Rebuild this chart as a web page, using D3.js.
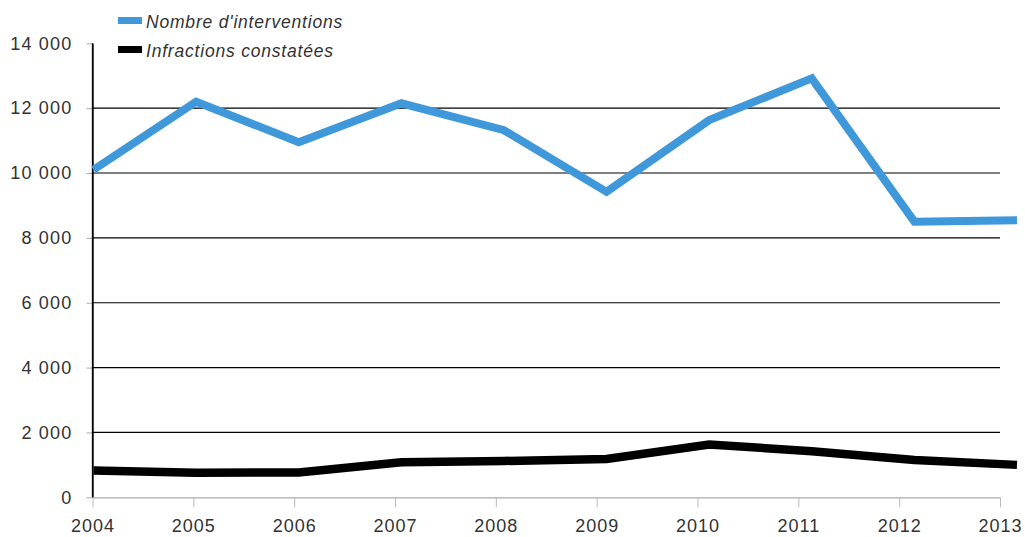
<!DOCTYPE html>
<html>
<head>
<meta charset="utf-8">
<script src="https://cdn.jsdelivr.net/npm/d3@7"></script>
<style>
  html, body { margin: 0; padding: 0; background: #fff; }
  svg { display: block; }
  text { font-family: "Liberation Sans", Arial, sans-serif; fill: #333; }
</style>
</head>
<body>
<svg id="chart" width="1025" height="537"></svg>
<script>
// Years on the horizontal axis
const years = [2004, 2005, 2006, 2007, 2008, 2009, 2010, 2011, 2012, 2013];
// Number of interventions per year
const interventions = [10100, 12200, 10950, 12150, 11320, 9420, 11630, 12920, 8500, 8540];
// Recorded offences per year
const infractions = [830, 760, 765, 1080, 1120, 1180, 1630, 1420, 1150, 1000];
// Vertical axis ticks
const yTicks = [0, 2000, 4000, 6000, 8000, 10000, 12000, 14000];
// Legend entries
const seriesNames = ["Nombre d'interventions", "Infractions constatées"];
const seriesColors = ["#3f98da", "#000000"];

const svg = d3.select("#chart");

const plotLeft = 92.5, plotRight = 1000, plotTop = 43.3, plotBottom = 497.3;

const x = d3.scaleLinear().domain([2004, 2013]).range([plotLeft, plotRight]);
// the series are laid out on a slightly wider band than the year ticks
const xLine = d3.scaleLinear().domain([2004, 2013]).range([93.5, 1017]);
const y = d3.scaleLinear().domain([0, 14000]).range([plotBottom, plotTop]);

const fmt = d3.formatLocale({ decimal: ",", thousands: " ", grouping: [3], currency: ["", " €"] }).format(",d");

// horizontal gridlines
svg.append("g")
  .selectAll("line")
  .data(yTicks.filter(d => d > 0 && d < 14000))
  .join("line")
  .attr("x1", plotLeft).attr("x2", plotRight)
  .attr("y1", d => y(d)).attr("y2", d => y(d))
  .attr("stroke", "#000").attr("stroke-width", 1.2);

// left axis
const yAxis = svg.append("g")
  .attr("transform", `translate(${plotLeft},0)`)
  .call(d3.axisLeft(y).tickValues(yTicks).tickFormat(fmt).tickSize(6).tickSizeOuter(0).tickPadding(14));
yAxis.select(".domain").attr("stroke", "#000").attr("stroke-width", 1.3);
yAxis.selectAll(".tick line").attr("stroke", "#aaa");
yAxis.selectAll(".tick text")
  .attr("font-family", "Liberation Sans, Arial, sans-serif")
  .attr("font-size", 18).attr("letter-spacing", 1.2).attr("fill", "#333");

// bottom axis
const xAxis = svg.append("g")
  .attr("transform", `translate(0,${plotBottom})`)
  .call(d3.axisBottom(x).tickValues(years).tickFormat(d3.format("d")).tickSize(10).tickSizeOuter(0).tickPadding(12));
xAxis.select(".domain").attr("stroke", "#aaa").attr("stroke-width", 1.3);
xAxis.selectAll(".tick line").attr("stroke", "#bbb");
xAxis.selectAll(".tick text")
  .attr("font-family", "Liberation Sans, Arial, sans-serif")
  .attr("font-size", 18).attr("letter-spacing", 1).attr("fill", "#333");

// redraw the vertical axis line on top of the baseline
svg.append("line")
  .attr("x1", plotLeft).attr("x2", plotLeft)
  .attr("y1", plotTop).attr("y2", plotBottom)
  .attr("stroke", "#000").attr("stroke-width", 1.3);

const line = d3.line().x((d, i) => xLine(years[i])).y(d => y(d));

[interventions, infractions].forEach((vals, k) => {
  svg.append("path")
    .datum(vals)
    .attr("d", line)
    .attr("fill", "none")
    .attr("stroke", seriesColors[k])
    .attr("stroke-width", k === 0 ? 8 : 8.5)
    .attr("stroke-linejoin", "miter");
});

// legend
const legend = svg.append("g");
seriesNames.forEach((name, k) => {
  const yc = 20.5 + k * 29;
  legend.append("rect")
    .attr("x", 118).attr("y", yc - 3.5)
    .attr("width", 24).attr("height", 7)
    .attr("fill", seriesColors[k]);
  legend.append("text")
    .attr("x", 146).attr("y", yc + 7)
    .attr("font-size", 17.5)
    .attr("letter-spacing", 0.8)
    .attr("font-style", "italic")
    .text(name);
});
</script>
</body>
</html>
